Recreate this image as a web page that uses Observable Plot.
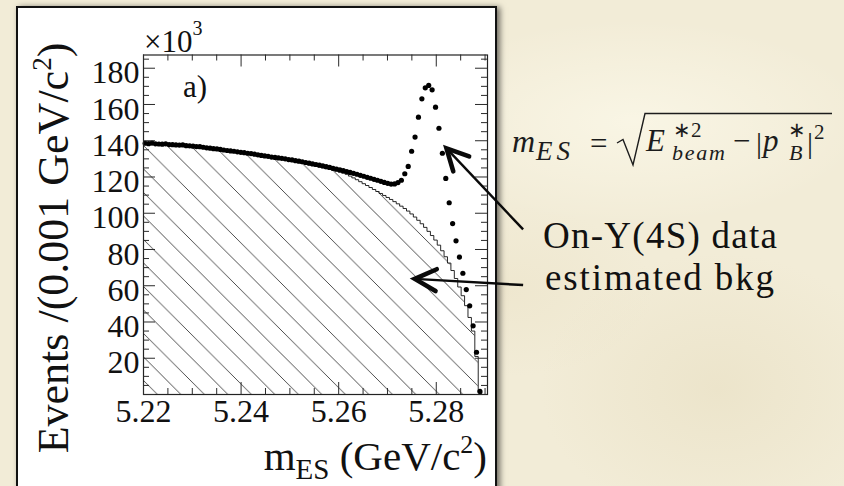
<!DOCTYPE html>
<html>
<head>
<meta charset="utf-8">
<script src="https://cdn.jsdelivr.net/npm/d3@7"></script>
<script src="https://cdn.jsdelivr.net/npm/@observablehq/plot@0.6"></script>
<style>
  html, body { margin: 0; padding: 0; }
  body {
    width: 844px; height: 486px; overflow: hidden; position: relative;
    background:
      radial-gradient(ellipse 40% 30% at 75% 25%, rgba(255,253,240,0.55), rgba(255,253,240,0) 70%),
      radial-gradient(ellipse 30% 40% at 85% 80%, rgba(225,214,180,0.35), rgba(225,214,180,0) 70%),
      radial-gradient(ellipse 25% 25% at 60% 60%, rgba(232,222,192,0.35), rgba(232,222,192,0) 70%),
      #f2ecd7;
    font-family: "Liberation Serif", serif;
  }
  #panel {
    position: absolute; left: 16px; top: 6px; width: 477px; height: 500px;
    background: #fff; border: 2px solid #111;
    box-shadow: 3px 1px 6px rgba(0,0,0,0.55);
  }
  #chart { position: absolute; left: 0; top: 0; }
</style>
</head>
<body>
<div id="panel"></div>
<div id="chart"></div>
<script>
// m_ES spectrum: 100 bins of 0.7 MeV starting at 5.22 GeV/c^2 (counts in thousands)
const binLo = 5.22;
const binWidth = 0.0007;

// On-resonance data, events per bin (x10^3)
const dataCounts = [
  138.6, 138.4, 138.7, 138.3, 138.2, 138.1, 138.3, 137.9, 137.8, 137.7,
  137.6, 137.7, 137.3, 137.2, 137.0, 136.8, 136.7, 136.4, 136.1, 135.9,
  135.6, 135.5, 135.2, 134.9, 134.6, 134.4, 134.2, 133.9, 133.6, 133.4,
  133.1, 132.9, 132.6, 132.2, 131.9, 131.6, 131.4, 131.0, 130.8, 130.5,
  130.3, 130.0, 129.6, 129.4, 129.0, 128.7, 128.4, 128.0, 127.6, 127.2,
  126.9, 126.5, 126.1, 125.7, 125.3, 124.8, 124.4, 123.9, 123.5, 123.0,
  122.5, 122.0, 121.5, 120.9, 120.4, 119.8, 119.3, 118.7, 118.2, 117.6,
  117.0, 116.5, 116.1, 116.2, 116.9, 118.2, 121.8, 125.8, 134.2, 142.0,
  153.0, 163.1, 169.2, 170.5, 168.1, 158.5, 146.9, 133.1, 119.2, 105.8,
  94.3, 84.8, 75.8, 66.9, 57.9, 48.9, 37.9, 23.3, 1.7, 0
];

// Estimated background, events per bin (x10^3)
const bkgCounts = [
  138.4, 138.3, 138.3, 138.2, 138.1, 138.0, 137.9, 137.8, 137.7, 137.6,
  137.5, 137.4, 137.2, 137.0, 136.8, 136.6, 136.4, 136.2, 136.0, 135.7,
  135.5, 135.2, 135.0, 134.7, 134.5, 134.2, 133.9, 133.6, 133.4, 133.1,
  132.8, 132.5, 132.2, 131.9, 131.6, 131.3, 131.0, 130.7, 130.3, 130.0,
  129.7, 129.3, 129.0, 128.6, 128.3, 127.9, 127.5, 127.1, 126.7, 126.3,
  125.9, 125.5, 125.1, 124.6, 124.2, 123.7, 123.2, 122.7, 122.1, 121.5,
  120.5, 119.5, 118.5, 117.4, 116.3, 115.3, 114.2, 113.1, 112.0, 110.9,
  109.8, 108.7, 107.6, 106.4, 105.2, 103.9, 102.6, 101.2, 99.6, 97.9,
  96.1, 94.2, 92.2, 90.0, 87.7, 85.2, 82.4, 79.3, 76.0, 72.5,
  68.4, 64.0, 59.3, 54.5, 49.0, 42.5, 35.0, 21.0, 1.5, 0
];

// Axis ticks
const xLabelTicks = [5.22, 5.24, 5.26, 5.28];
const yLabelTicks = [20, 40, 60, 80, 100, 120, 140, 160, 180];
const xMinorTicks = d3.range(5.22, 5.2901, 0.005).filter(v => !xLabelTicks.some(t => Math.abs(t - v) < 1e-6));
const yMinorTicks = d3.range(0, 186, 5).filter(v => v % 20 !== 0);
const yMajorTicks = d3.range(0, 181, 20);

// Annotation arrows (data coordinates of tail and tip)
const arrows = [
  {fromM: 5.2979, fromN: 90.8, toM: 5.2822, toN: 135.5},
  {fromM: 5.2979, fromN: 60.1, toM: 5.2757, toN: 63.5}
];

const dataPts = dataCounts
  .map((n, i) => ({m: binLo + (i + 0.5) * binWidth, n}))
  .filter(d => d.n > 0);
const bkgSteps = bkgCounts.map((n, i) => ({m: binLo + i * binWidth, n}))
  .concat([{m: binLo + bkgCounts.length * binWidth, n: 0}]);

const W = 844, H = 486;
const mL = 143, mR = 357, mT = 54.5, mB = 92;
const plotW = W - mL - mR, plotH = H - mT - mB;
const majorLen = 12, minorLen = 6;
const tickColor = "#2a2a2a";
const fontSize = 32;

const plot = Plot.plot({
  width: W, height: H,
  marginLeft: mL, marginRight: mR, marginTop: mT, marginBottom: mB,
  style: {background: "none", fontFamily: "'Liberation Serif', serif", overflow: "visible", color: "#111"},
  x: {domain: [5.22, 5.2905], axis: null},
  y: {domain: [0, 187.3], axis: null},
  marks: [
    // hatched background estimate
    Plot.areaY(bkgSteps, {x: "m", y: "n", curve: "step-after", fill: "url(#bkg-hatch)"}),
    Plot.line(bkgSteps, {x: "m", y: "n", curve: "step-after", stroke: "#111", strokeWidth: 0.9}),
    // data points
    Plot.dot(dataPts, {x: "m", y: "n", r: 2.6, fill: "#000", stroke: "none"}),
    // frame and inward ticks on all four sides
    Plot.frame({stroke: "#222", strokeWidth: 1.2}),
    Plot.ruleY(yMajorTicks, {y: d => d, insetRight: plotW - majorLen, stroke: tickColor}),
    Plot.ruleY(yMinorTicks, {y: d => d, insetRight: plotW - minorLen, stroke: tickColor}),
    Plot.ruleY(yMajorTicks, {y: d => d, insetLeft: plotW - majorLen, stroke: tickColor}),
    Plot.ruleY(yMinorTicks, {y: d => d, insetLeft: plotW - minorLen, stroke: tickColor}),
    Plot.ruleX(xLabelTicks, {x: d => d, insetTop: plotH - majorLen, stroke: tickColor}),
    Plot.ruleX(xMinorTicks, {x: d => d, insetTop: plotH - minorLen, stroke: tickColor}),
    Plot.ruleX(xLabelTicks, {x: d => d, insetBottom: plotH - majorLen, stroke: tickColor}),
    Plot.ruleX(xMinorTicks, {x: d => d, insetBottom: plotH - minorLen, stroke: tickColor}),
    // tick labels
    Plot.text(yLabelTicks, {y: d => d, text: d => String(d), frameAnchor: "left", textAnchor: "end",
      dx: -4, dy: 5, fontSize, fill: "#111"}),
    Plot.text(xLabelTicks, {x: d => d, text: d => d.toFixed(2), frameAnchor: "bottom",
      dy: 27, fontSize, fill: "#111"})
  ]
});

document.getElementById("chart").appendChild(plot);

const svg = d3.select(plot);
const xs = plot.scale("x"), ys = plot.scale("y");

// hatch pattern for the background histogram
const defs = svg.insert("defs", ":first-child");
const p = 23.5;
defs.append("pattern")
  .attr("id", "bkg-hatch")
  .attr("patternUnits", "userSpaceOnUse")
  .attr("width", p).attr("height", p)
  .attr("patternTransform", "translate(0,2)")
  .append("path")
  .attr("d", `M-1,-1L${p + 1},${p + 1}M-1,${p - 1}L1,${p + 1}M${p - 1},-1L${p + 1},1`)
  .attr("stroke", "#3a3a3a").attr("stroke-width", 0.9).attr("fill", "none");

const serif = "'Liberation Serif', serif";

// multiplier above the y axis
const mult = svg.append("text").attr("x", 144).attr("y", 52).attr("text-anchor", "start")
  .attr("font-family", serif).attr("font-size", 31).attr("fill", "#111");
mult.append("tspan").text("×10");
mult.append("tspan").attr("font-size", 20).attr("dy", -17).text("3");

// panel tag
svg.append("text").attr("x", 183).attr("y", 97).attr("text-anchor", "start")
  .attr("font-family", serif).attr("font-size", 31).attr("fill", "#111").text("a)");

// y-axis title
const yt = svg.append("text")
  .attr("transform", "translate(68,248) rotate(-90)")
  .attr("text-anchor", "middle")
  .attr("font-family", serif).attr("font-size", 44).attr("fill", "#111");
yt.append("tspan").text("Events /(0.001 GeV/c");
yt.append("tspan").attr("font-size", 27).attr("dy", -17).text("2");
yt.append("tspan").attr("dy", 17).text(")");

// x-axis title
const xt = svg.append("text")
  .attr("x", 487).attr("y", 470).attr("text-anchor", "end")
  .attr("font-family", serif).attr("font-size", 41).attr("fill", "#111");
xt.append("tspan").text("m");
xt.append("tspan").attr("font-size", 29).attr("dy", 9).text("ES");
xt.append("tspan").attr("dy", -9).text(" (GeV/c");
xt.append("tspan").attr("font-size", 26).attr("dy", -17).text("2");
xt.append("tspan").attr("dy", 17).text(")");

// arrows pointing at the peak and at the hatched background
const ag = svg.append("g").attr("stroke", "#0a0a0a").attr("fill", "none");
for (const a of arrows) {
  const x1 = xs.apply(a.fromM), y1 = ys.apply(a.fromN);
  const x2 = xs.apply(a.toM), y2 = ys.apply(a.toN);
  const ang = Math.atan2(y1 - y2, x1 - x2);
  const L = 24, spread = 27 * Math.PI / 180;
  ag.append("line").attr("x1", x1).attr("y1", y1).attr("x2", x2).attr("y2", y2)
    .attr("stroke-width", 2.4);
  ag.append("path")
    .attr("d", `M${x2 + L * Math.cos(ang + spread)},${y2 + L * Math.sin(ang + spread)}` +
               `L${x2},${y2}L${x2 + L * Math.cos(ang - spread)},${y2 + L * Math.sin(ang - spread)}`)
    .attr("stroke-width", 4.6).attr("stroke-linecap", "round").attr("stroke-linejoin", "miter");
}

// definition of m_ES
const fg = svg.append("g").attr("font-family", serif).attr("fill", "#1c1c1c").attr("text-anchor", "start");
const put = (x, y, size, txt, italic, extra) => {
  const t = fg.append("text").attr("x", x).attr("y", y).attr("font-size", size)
    .attr("font-style", italic ? "italic" : "normal").text(txt);
  if (extra) extra(t);
  return t;
};
put(512, 152, 32, "m", true);
put(536, 160, 27, "ES", true, t => t.attr("letter-spacing", 4));
put(590, 154, 31, "=", false);
fg.append("path")
  .attr("d", "M617,143L623,139.5L633,165L645,113.5L832,113.5")
  .attr("stroke", "#1c1c1c").attr("stroke-width", 1.4).attr("fill", "none").attr("stroke-linejoin", "miter");
put(646, 151, 31, "E", true);
put(673, 137, 21, "∗2", false);
put(672, 160, 22, "beam", true, t => t.attr("textLength", 53));
put(733, 151, 31, "−", false);
put(756, 153, 30, "|", false);
put(763, 151, 31, "p", true);
put(788, 137, 21, "∗", false);
put(789, 160, 22, "B", true);
put(807, 153, 30, "|", false);
put(814, 139, 21, "2", false);

// legend texts
const lg = svg.append("g").attr("font-family", serif).attr("fill", "#111").attr("font-size", 37)
  .attr("text-anchor", "start");
lg.append("text").attr("x", 543).attr("y", 248).attr("textLength", 234).text("On-Υ(4S) data");
lg.append("text").attr("x", 545).attr("y", 289.5).attr("textLength", 229).text("estimated bkg");
</script>
</body>
</html>
